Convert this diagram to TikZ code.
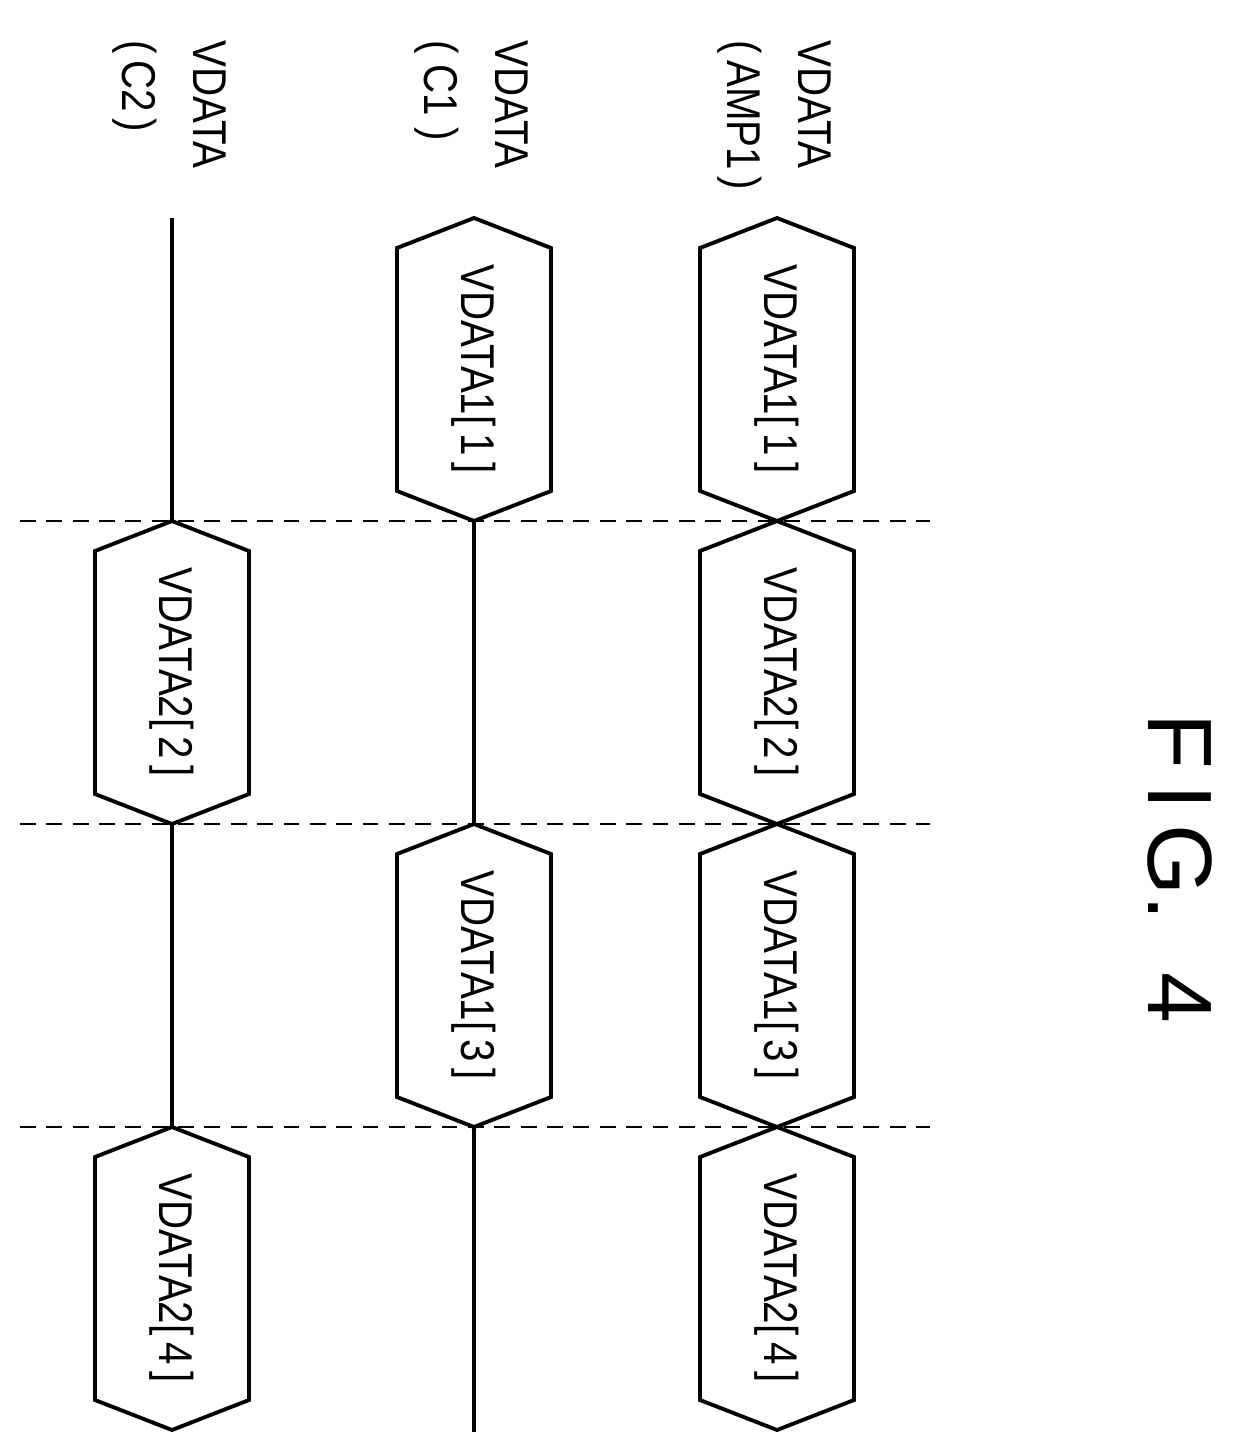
\documentclass[tikz,border=0pt]{standalone}
\usepackage{fontspec}
\setmainfont{Liberation Sans}
\begin{document}
\begin{tikzpicture}[x=0.02cm,y=-0.02cm,
    sig/.style={line width=2.2pt},
    lbl/.style={rotate=-90,font=\fontsize{27}{30}\selectfont,xscale=0.85},
    hdr/.style={rotate=-90,font=\fontsize{27}{30}\selectfont,xscale=0.85,anchor=west}]
        \useasboundingbox (0,0) rectangle (1236,1454);

        % hexagon macro: centre x, top y
        \newcommand{\hexbox}[3]{%
            \draw[sig] (#1,#2) -- (#1+77,#2+30) -- (#1+77,#2+273) -- (#1,#2+303)
                -- (#1-77,#2+273) -- (#1-77,#2+30) -- cycle;
            \node[lbl] at (#1,#2+151) {#3};}

        % Dashed separators
        \foreach \y/\n in {521/a,824/b,1127/c} {
            \coordinate (l\n) at (20,\y);
            \coordinate (r\n) at (930,\y);
            \draw[dashed, line width=1.6pt, dash pattern=on 9pt off 6pt] (l\n) -- (r\n);
        }

        % Headers
        \node[hdr] (hamp) at (815,35) {VDATA};
        \node[hdr] (hamp2) at (740,35) {(\,AMP1\,)};
        \node[hdr] (hc1) at (512,35) {VDATA};
        \node[hdr] (hc12) at (437,35) {(\;C1\;)};
        \node[hdr] (hc2) at (210,35) {VDATA};
        \node[hdr] (hc22) at (135,35) {(\,C2\,)};

        % AMP1 row
        \hexbox{777}{218}{VDATA1[\,1\,]}
        \hexbox{777}{521}{VDATA2[\,2\,]}
        \hexbox{777}{824}{VDATA1[\,3\,]}
        \hexbox{777}{1127}{VDATA2[\,4\,]}

        % C1 row
        \hexbox{474}{218}{VDATA1[\,1\,]}
        \coordinate (c1a) at (474,521);
        \coordinate (c1b) at (474,824);
        \draw[sig] (c1a) -- (c1b);
        \hexbox{474}{824}{VDATA1[\,3\,]}
        \coordinate (c1c) at (474,1127);
        \coordinate (c1d) at (474,1432);
        \draw[sig] (c1c) -- (c1d);

        % C2 row
        \coordinate (c2s) at (172,218);
        \coordinate (c2a) at (172,521);
        \draw[sig] (c2s) -- (c2a);
        \hexbox{172}{521}{VDATA2[\,2\,]}
        \coordinate (c2b) at (172,824);
        \coordinate (c2c) at (172,1127);
        \draw[sig] (c2b) -- (c2c);
        \hexbox{172}{1127}{VDATA2[\,4\,]}

        % Title
        \node[rotate=-90,font=\fontsize{52}{56}\selectfont] (fig) at (1180,868) {F\,I\,G.\;\;4};
\end{tikzpicture}
\end{document}
